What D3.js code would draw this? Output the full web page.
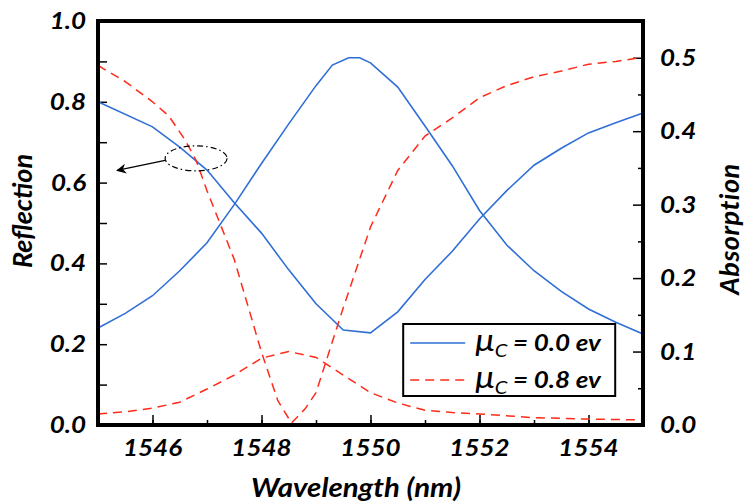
<!DOCTYPE html>
<html>
<head>
<meta charset="utf-8">
<script src="https://cdn.jsdelivr.net/npm/d3@7"></script>
<style>
  body { margin: 0; background: #fff; }
  text { font-family: Lato, "Open Sans", sans-serif; font-weight: bold; font-style: italic; fill: #000; }
</style>
</head>
<body>
<div id="chart"></div>
<script>
// wavelength grid (nm) for each curve
var lamBlueRef = [1545, 1546, 1546.5, 1547, 1547.5, 1548, 1548.5, 1549, 1549.5, 1550, 1550.5, 1551, 1551.5, 1552, 1552.5, 1553, 1553.5, 1554, 1554.5, 1555];
var blueRef    = [0.80, 0.738, 0.688, 0.631, 0.55, 0.475, 0.384, 0.30, 0.235, 0.228, 0.28, 0.36, 0.43, 0.51, 0.58, 0.643, 0.685, 0.723, 0.748, 0.772];

var lamBlueAbs = [1545, 1545.5, 1546, 1546.5, 1547, 1547.5, 1548, 1548.5, 1549, 1549.3, 1549.6, 1549.8, 1550, 1550.5, 1551, 1551.5, 1552, 1552.5, 1553, 1553.5, 1554, 1554.5, 1555];
var blueAbs    = [0.132, 0.152, 0.176, 0.21, 0.248, 0.30, 0.356, 0.41, 0.462, 0.49, 0.50, 0.50, 0.493, 0.46, 0.407, 0.353, 0.292, 0.245, 0.21, 0.182, 0.158, 0.14, 0.124];

var lamRedRef = [1545, 1545.5, 1546, 1546.3, 1546.6, 1546.8, 1547, 1547.5, 1548, 1548.3, 1548.55, 1548.8, 1549, 1549.5, 1550, 1550.5, 1551, 1551.5, 1552, 1552.5, 1553, 1553.5, 1554, 1554.5, 1555];
var redRef    = [0.89, 0.85, 0.80, 0.765, 0.705, 0.655, 0.58, 0.41, 0.18, 0.06, 0.005, 0.04, 0.08, 0.29, 0.49, 0.63, 0.715, 0.76, 0.81, 0.84, 0.862, 0.876, 0.893, 0.90, 0.91];

var lamRedAbs = [1545, 1545.5, 1546, 1546.5, 1547, 1547.5, 1548, 1548.5, 1549, 1549.5, 1550, 1550.5, 1551, 1551.5, 1552, 1553, 1554, 1555];
var redAbs    = [0.015, 0.018, 0.023, 0.031, 0.049, 0.068, 0.091, 0.10, 0.092, 0.068, 0.044, 0.03, 0.02, 0.017, 0.015, 0.01, 0.008, 0.007];

var xTicks = [1546, 1548, 1550, 1552, 1554];
var leftTicks = [0.0, 0.2, 0.4, 0.6, 0.8, 1.0];
var rightTicks = [0.0, 0.1, 0.2, 0.3, 0.4, 0.5];
var legendLabels = ["0.0", "0.8"];

var svgWidth = 745;
var svgHeight = 504;

var margin = {
  top: 21,
  right: 102,
  bottom: 79,
  left: 98
};

var width = svgWidth - margin.left - margin.right;
var height = svgHeight - margin.top - margin.bottom;

var svg = d3.select("#chart")
  .append("svg")
  .attr("width", svgWidth)
  .attr("height", svgHeight);

var chartGroup = svg.append("g")
  .attr("transform", `translate(${margin.left}, ${margin.top})`);

// scales
var xScale = d3.scaleLinear().domain([1545, 1555]).range([0, width]);
var yLeft = d3.scaleLinear().domain([0, 1]).range([height, 0]);
var yRight = d3.scaleLinear().domain([0, 0.55]).range([height, 0]);

// axes, ticks drawn inward
var bottomMajor = d3.axisTop(xScale).tickValues(xTicks).tickSize(10).tickFormat("");
var bottomMinor = d3.axisTop(xScale).tickValues(d3.range(1545, 1556, 1)).tickSize(5).tickFormat("");
var leftAxis = d3.axisRight(yLeft).tickValues(d3.range(0, 1.01, 0.1)).tickSize(9).tickFormat("");
var rightMajor = d3.axisLeft(yRight).tickValues(rightTicks).tickSize(10).tickFormat("");
var rightMinor = d3.axisLeft(yRight).tickValues(d3.range(0.05, 0.55, 0.1)).tickSize(5).tickFormat("");

chartGroup.append("g").attr("transform", `translate(0, ${height})`).call(bottomMinor);
chartGroup.append("g").attr("transform", `translate(0, ${height})`).call(bottomMajor);
chartGroup.append("g").call(leftAxis);
chartGroup.append("g").attr("transform", `translate(${width}, 0)`).call(rightMinor);
chartGroup.append("g").attr("transform", `translate(${width}, 0)`).call(rightMajor);

chartGroup.selectAll(".tick line").attr("stroke", "#000").attr("stroke-width", 1.5);
chartGroup.selectAll(".domain").remove();

// tick labels (the original face is wider, so stretch a little)
var stretch = 1.13;

chartGroup.selectAll(".xlab")
  .data(xTicks)
  .enter()
  .append("text")
  .attr("transform", d => `translate(${xScale(d)}, ${height + 31}) scale(${stretch}, 1)`)
  .attr("text-anchor", "middle")
  .attr("font-size", "23px")
  .text(d => d);

chartGroup.selectAll(".ylab")
  .data(leftTicks)
  .enter()
  .append("text")
  .attr("transform", d => `translate(-12, ${yLeft(d) + 8}) scale(${stretch}, 1)`)
  .attr("text-anchor", "end")
  .attr("font-size", "23px")
  .text(d => d.toFixed(1));

chartGroup.selectAll(".rlab")
  .data(rightTicks)
  .enter()
  .append("text")
  .attr("transform", d => `translate(${width + 17}, ${yRight(d) + 8}) scale(${stretch}, 1)`)
  .attr("text-anchor", "start")
  .attr("font-size", "23px")
  .text(d => d.toFixed(1));

// curves
var lineLeft = d3.line().x(d => xScale(d[0])).y(d => yLeft(d[1]));
var lineRight = d3.line().x(d => xScale(d[0])).y(d => yRight(d[1]));

var blue = "#2f6fd6";
var red = "#ff2a1a";

chartGroup.append("path")
  .datum(d3.zip(lamBlueRef, blueRef))
  .attr("d", lineLeft)
  .attr("fill", "none").attr("stroke", blue).attr("stroke-width", 1.6);

chartGroup.append("path")
  .datum(d3.zip(lamBlueAbs, blueAbs))
  .attr("d", lineRight)
  .attr("fill", "none").attr("stroke", blue).attr("stroke-width", 1.6);

chartGroup.append("path")
  .datum(d3.zip(lamRedRef, redRef))
  .attr("d", lineLeft)
  .attr("fill", "none").attr("stroke", red).attr("stroke-width", 1.5)
  .attr("stroke-dasharray", "9,6");

chartGroup.append("path")
  .datum(d3.zip(lamRedAbs, redAbs))
  .attr("d", lineRight)
  .attr("fill", "none").attr("stroke", red).attr("stroke-width", 1.5)
  .attr("stroke-dasharray", "9,6");

// frame
chartGroup.append("rect")
  .attr("width", width)
  .attr("height", height)
  .attr("fill", "none")
  .attr("stroke", "#000")
  .attr("stroke-width", 4);

// annotation: ellipse + arrow pointing at left axis
svg.append("defs").append("marker")
  .attr("id", "arrow")
  .attr("viewBox", "0 0 10 10")
  .attr("refX", 9).attr("refY", 5)
  .attr("markerWidth", 14).attr("markerHeight", 10)
  .attr("markerUnits", "userSpaceOnUse")
  .attr("orient", "auto")
  .append("path")
  .attr("d", "M0,0 L10,5 L0,10 L3,5 Z")
  .attr("fill", "#000");

chartGroup.append("ellipse")
  .attr("cx", xScale(1546.8))
  .attr("cy", yLeft(0.66))
  .attr("rx", 31).attr("ry", 12.5)
  .attr("fill", "none").attr("stroke", "#000").attr("stroke-width", 1.2)
  .attr("stroke-dasharray", "6,3,1.5,3");

chartGroup.append("line")
  .attr("x1", xScale(1546.8) - 31).attr("y1", yLeft(0.655))
  .attr("x2", xScale(1545.35)).attr("y2", yLeft(0.63))
  .attr("stroke", "#000").attr("stroke-width", 1.3)
  .attr("marker-end", "url(#arrow)");

// legend
var legend = chartGroup.append("g")
  .attr("transform", `translate(${xScale(1550.6)}, ${yLeft(0.25)})`);

legend.append("rect")
  .attr("width", 212).attr("height", 72)
  .attr("fill", "#fff").attr("stroke", "#000").attr("stroke-width", 2);

legendLabels.forEach(function(lab, i) {
  var yy = 19 + i * 37;
  legend.append("line")
    .attr("x1", 7).attr("x2", 62)
    .attr("y1", yy).attr("y2", yy)
    .attr("stroke", i === 0 ? blue : red)
    .attr("stroke-width", 1.6)
    .attr("stroke-dasharray", i === 0 ? null : "9,6");
  var t = legend.append("text")
    .attr("transform", `translate(72, ${yy + 8}) scale(${stretch}, 1)`)
    .attr("font-size", "23px");
  t.append("tspan").attr("font-size", "31px").attr("font-weight", "normal").text("\u03bc");
  t.append("tspan").attr("font-size", "18px").attr("font-weight", "normal").attr("dy", 6).text("C");
  t.append("tspan").attr("dy", -6).text(" = " + lab + " ev");
});

// axis titles
svg.append("text")
  .attr("transform", "translate(32, 211) rotate(-90)")
  .attr("text-anchor", "middle")
  .attr("font-size", "27px")
  .text("Reflection");

svg.append("text")
  .attr("transform", "translate(739, 229) rotate(-90)")
  .attr("text-anchor", "middle")
  .attr("font-size", "27px")
  .attr("letter-spacing", "0.5px")
  .text("Absorption");

svg.append("text")
  .attr("transform", `translate(356, 497) scale(${stretch}, 1)`)
  .attr("text-anchor", "middle")
  .attr("font-size", "26px")
  .text("Wavelength (nm)");
</script>
</body>
</html>
